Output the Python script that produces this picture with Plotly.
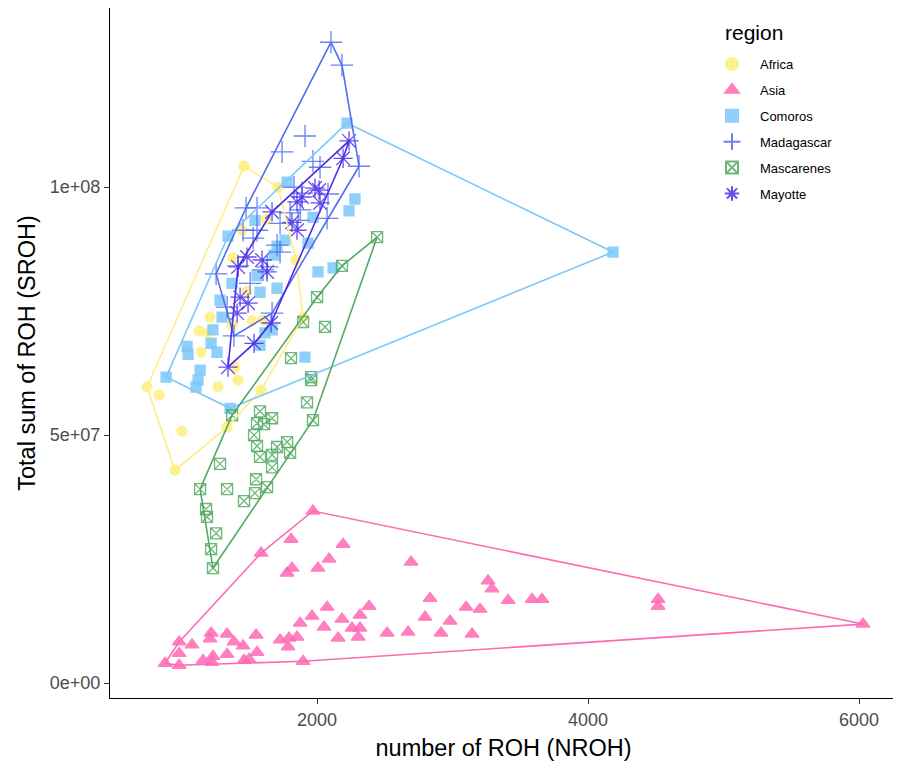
import plotly.graph_objects as go

# ---------------- data ----------------
regions = ["Africa", "Asia", "Comoros", "Madagascar", "Mascarenes", "Mayotte"]

africa_x = [1461, 1712, 1624, 1446, 1380, 1845, 1483, 1897, 1210, 1129, 1520, 1601,
            1196, 1144, 1373, 1395, 1417, 1269, 1587, 745, 834, 1004, 1336, 952]
africa_y = [104.2e6, 100.0e6, 93.5e6, 91.3e6, 85.7e6, 85.3e6, 79.0e6, 73.8e6, 73.8e6, 71.0e6,
            73.0e6, 73.2e6, 70.6e6, 66.7e6, 72.2e6, 63.7e6, 61.1e6, 59.7e6, 59.1e6, 59.7e6,
            58.1e6, 50.8e6, 51.6e6, 42.9e6]

asia_x = [1970, 1808, 2192, 1587, 2089, 1815, 1779, 2007, 2694, 3262, 3291, 2834, 3410, 3587,
          3660, 3100, 3203, 2797, 2982, 2384, 2317, 2074, 1963, 1875, 2184, 2052, 2317, 2258,
          2303, 2155, 2517, 2672, 2915, 3144, 1852, 1793, 1727, 1786, 1550, 1557, 1454, 1387,
          1336, 1336, 1218, 1210, 1077, 982, 982, 1232, 1159, 1225, 1461, 1498, 1897, 878,
          982, 4517, 4517, 6029]
asia_y = [34.7e6, 29.0e6, 28.0e6, 26.2e6, 25.0e6, 23.2e6, 22.2e6, 23.2e6, 24.4e6, 20.6e6,
          19.0e6, 17.1e6, 16.7e6, 16.9e6, 16.9e6, 15.3e6, 14.9e6, 13.3e6, 12.5e6, 15.5e6,
          13.7e6, 15.3e6, 13.5e6, 12.1e6, 12.9e6, 11.3e6, 11.1e6, 11.1e6, 9.3e6, 9.1e6,
          10.1e6, 10.3e6, 10.1e6, 9.9e6, 9.3e6, 9.1e6, 8.7e6, 7.3e6, 9.7e6, 6.2e6,
          7.5e6, 8.3e6, 9.9e6, 5.8e6, 10.1e6, 8.9e6, 7.7e6, 8.3e6, 6.0e6, 5.4e6,
          4.6e6, 4.2e6, 4.6e6, 4.8e6, 4.4e6, 4.0e6, 3.6e6, 16.9e6, 15.5e6, 11.9e6]

comoros_x = [4184, 2221, 2280, 2236, 1970, 1779, 1542, 1343, 1764, 1705, 1683, 1934, 2007,
             2118, 1557, 1373, 1579, 1705, 1284, 1299, 1232, 1041, 1048, 1218, 1262, 1137,
             1122, 1107, 886, 1358, 1616, 1668, 1579, 1911]
comoros_y = [86.9e6, 112.9e6, 97.6e6, 95.2e6, 93.9e6, 101.0e6, 93.3e6, 90.1e6, 89.3e6, 88.1e6,
             86.3e6, 88.7e6, 82.9e6, 83.7e6, 82.1e6, 80.6e6, 78.8e6, 79.6e6, 77.2e6, 73.8e6,
             71.2e6, 67.9e6, 66.3e6, 68.5e6, 66.7e6, 63.1e6, 61.1e6, 59.7e6, 61.7e6, 55.4e6,
             70.6e6, 71.2e6, 68.1e6, 65.7e6]

madagascar_x = [2103, 2184, 1911, 1742, 1970, 2310, 1476, 1557, 1830, 1889, 2081, 1727, 1801,
                2074, 1557, 1528, 1705, 1727, 1601, 1255, 1417, 1506, 1631, 1668, 1336, 1387,
                1860, 1454, 2022, 1875]
madagascar_y = [129.2e6, 124.6e6, 110.3e6, 107.1e6, 105.2e6, 104.2e6, 95.8e6, 95.8e6, 100.0e6,
                98.8e6, 98.6e6, 92.7e6, 94.8e6, 93.7e6, 91.3e6, 89.7e6, 88.3e6, 86.9e6, 83.3e6,
                82.5e6, 84.1e6, 80.6e6, 83.9e6, 74.6e6, 75.8e6, 70.0e6, 93.3e6, 91.3e6, 104.0e6,
                95.4e6]

mascarenes_x = [2443, 2184, 2000, 1897, 2059, 1808, 1956, 1956, 1926, 1970, 1373, 1579, 1668,
                1557, 1609, 1535, 1557, 1779, 1705, 1801, 1668, 1579, 1668, 1284, 1550, 1631,
                1542, 1461, 1137, 1336, 1181, 1188, 1255, 1218, 1232]
mascarenes_y = [89.9e6, 84.1e6, 77.8e6, 72.8e6, 71.8e6, 65.5e6, 61.7e6, 61.1e6, 56.6e6, 53.0e6,
                54.0e6, 54.8e6, 53.4e6, 52.4e6, 52.2e6, 50.0e6, 47.8e6, 48.6e6, 47.6e6, 46.4e6,
                46.0e6, 45.6e6, 43.5e6, 44.2e6, 41.1e6, 39.5e6, 38.3e6, 36.7e6, 39.1e6, 39.1e6,
                35.1e6, 33.5e6, 30.2e6, 27.0e6, 23.2e6]

mayotte_x = [2236, 2192, 1985, 2015, 1889, 1852, 2022, 1668, 1815, 1852, 1483, 1594, 1417,
             1631, 1432, 1491, 1410, 1661, 1535, 1343]
mayotte_y = [109.3e6, 105.8e6, 99.8e6, 99.4e6, 98.0e6, 97.0e6, 96.8e6, 95.0e6, 92.9e6, 91.3e6,
             85.9e6, 85.3e6, 83.9e6, 82.9e6, 77.8e6, 76.6e6, 74.6e6, 72.6e6, 68.5e6, 63.7e6]

x_tick_vals = [2000, 4000, 6000]
y_tick_vals = [0, 5e7, 1e8]
y_tick_text = ["0e+00", "5e+07", "1e+08"]

# ---------------- styles ----------------
colors = {
    "Africa": "#FFEE80",
    "Asia": "#FF69B4",
    "Comoros": "#7CC8FA",
    "Madagascar": "#4F6EF0",
    "Mascarenes": "#52AA62",
    "Mayotte": "#4A2EE8",
}
symbols = {
    "Africa": "circle",
    "Asia": "triangle-up",
    "Comoros": "square",
    "Madagascar": "cross-thin-open",
    "Mascarenes": "square-x-open",
    "Mayotte": "asterisk-open",
}
sizes = {"Africa": 10, "Asia": 12, "Comoros": 10, "Madagascar": 16,
         "Mascarenes": 11, "Mayotte": 16}

data = {
    "Africa": (africa_x, africa_y),
    "Asia": (asia_x, asia_y),
    "Comoros": (comoros_x, comoros_y),
    "Madagascar": (madagascar_x, madagascar_y),
    "Mascarenes": (mascarenes_x, mascarenes_y),
    "Mayotte": (mayotte_x, mayotte_y),
}


def convex_hull(xs, ys):
    pts = sorted(set(zip(xs, ys)))
    if len(pts) < 3:
        return pts
    sx = max(p[0] for p in pts) - min(p[0] for p in pts) or 1
    sy = max(p[1] for p in pts) - min(p[1] for p in pts) or 1

    def cross(o, a, b):
        return ((a[0] - o[0]) / sx) * ((b[1] - o[1]) / sy) - ((a[1] - o[1]) / sy) * ((b[0] - o[0]) / sx)

    lower = []
    for p in pts:
        while len(lower) >= 2 and cross(lower[-2], lower[-1], p) <= 0:
            lower.pop()
        lower.append(p)
    upper = []
    for p in reversed(pts):
        while len(upper) >= 2 and cross(upper[-2], upper[-1], p) <= 0:
            upper.pop()
        upper.append(p)
    return lower[:-1] + upper[:-1]


fig = go.Figure()

for r in regions:
    xs, ys = data[r]
    fig.add_trace(go.Scatter(
        x=xs, y=ys, mode="markers", name=r, legendgroup=r,
        marker=dict(symbol=symbols[r], size=sizes[r], color=colors[r],
                    opacity=0.85,
                    line=dict(color=colors[r], width=1.3)),
    ))

for r in regions:
    xs, ys = data[r]
    hull = convex_hull(xs, ys)
    hull.append(hull[0])
    fig.add_trace(go.Scatter(
        x=[p[0] for p in hull], y=[p[1] for p in hull], mode="lines",
        line=dict(color=colors[r], width=1.6), showlegend=False, hoverinfo="skip",
    ))

# the page body adds an 8px offset, so the figure is sized to fit the window
FIG_W, FIG_H = 893, 753
M_L, M_R, M_T, M_B = 102, 4, 0, 63
PW = FIG_W - M_L - M_R
PH = FIG_H - M_T - M_B

fig.add_annotation(
    text="region", xref="paper", yref="paper", x=(723 - 110) / PW, y=(698 - 32) / PH,
    xanchor="left", yanchor="middle", showarrow=False, font=dict(size=21, color="black"),
)

fig.update_layout(
    width=FIG_W, height=FIG_H,
    plot_bgcolor="white", paper_bgcolor="white",
    font=dict(family="Liberation Sans, Arial, sans-serif", color="black"),
    margin=dict(l=M_L, r=M_R, t=M_T, b=M_B),
    legend=dict(
        font=dict(size=13),
        x=(704 - 110) / PW, y=(698 - 49) / PH, xanchor="left", yanchor="top",
        bgcolor="rgba(255,255,255,0)",
        tracegroupgap=6,
        itemsizing="constant",
        itemwidth=46,
    ),
    xaxis=dict(
        range=[472, 6280], tickvals=x_tick_vals, automargin=False,
        showline=True, linecolor="black", linewidth=1.2,
        ticks="outside", ticklen=5, tickcolor="#333333",
        showgrid=False, zeroline=False,
        tickfont=dict(size=18, color="#4D4D4D"),
        title=dict(text="number of ROH (NROH)", font=dict(size=23.5), standoff=20),
    ),
    yaxis=dict(
        range=[-3.0e6, 136.1e6], tickvals=y_tick_vals, ticktext=y_tick_text, automargin=False,
        showline=True, linecolor="black", linewidth=1.2,
        ticks="outside", ticklen=5, tickcolor="#333333",
        showgrid=False, zeroline=False,
        tickfont=dict(size=18, color="#4D4D4D"),
        title=dict(text="Total sum of ROH (SROH)", font=dict(size=23.5), standoff=7),
    ),
)

fig.write_html("out.html")
